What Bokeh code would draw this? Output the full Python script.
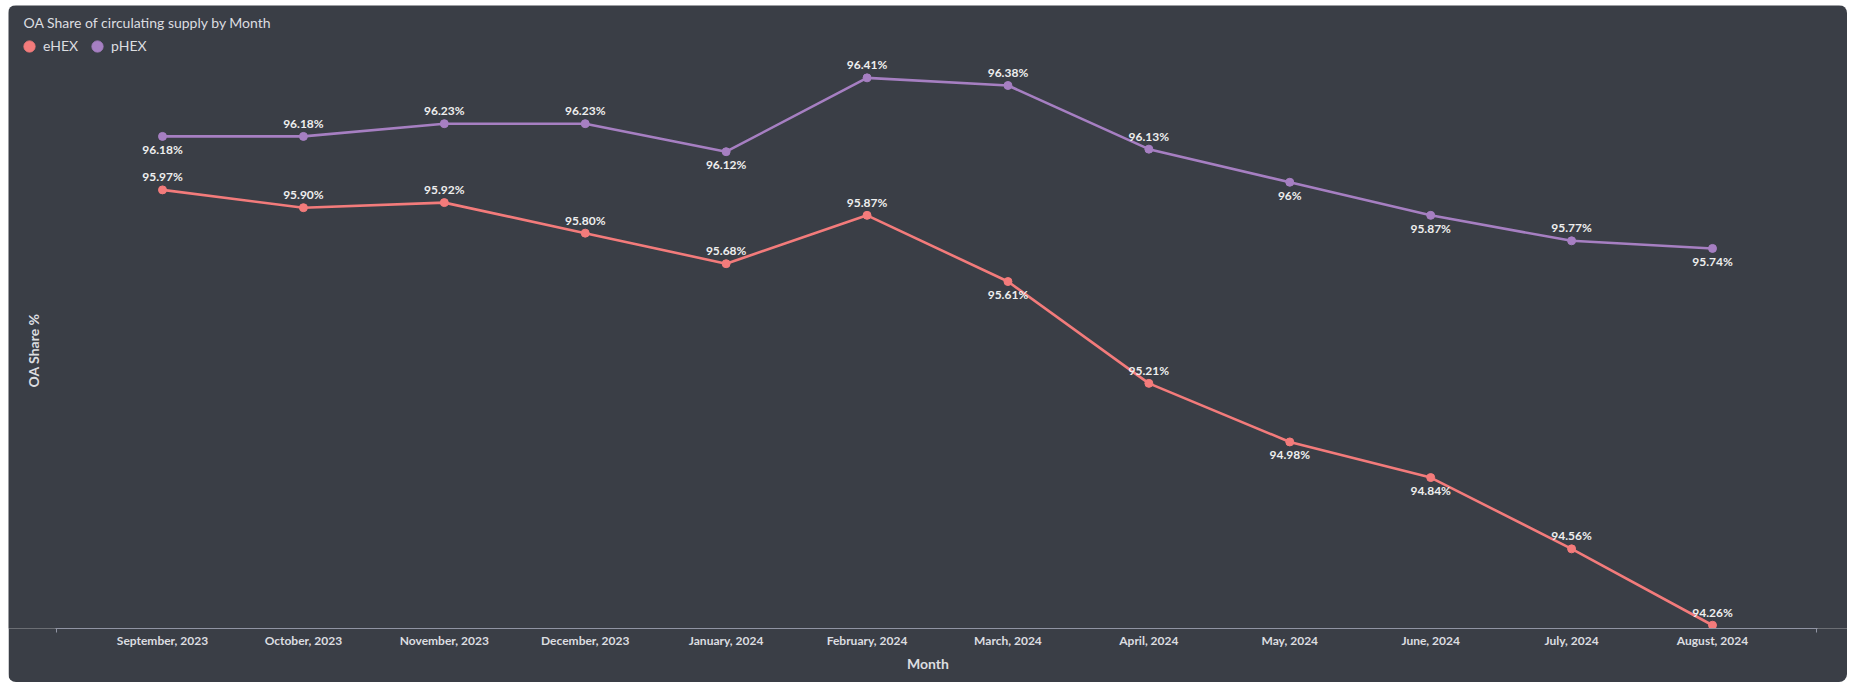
import math
from bokeh.plotting import figure
from bokeh.models import (ColumnDataSource, Range1d, LabelSet, Label,
                          Legend, LegendItem, FixedTicker)
from bokeh.core.properties import value
from bokeh.embed import file_html
from bokeh.resources import INLINE

# ---- data ----
months = ["September, 2023", "October, 2023", "November, 2023", "December, 2023",
          "January, 2024", "February, 2024", "March, 2024", "April, 2024",
          "May, 2024", "June, 2024", "July, 2024", "August, 2024"]
ehex = [95.97, 95.90, 95.92, 95.80, 95.68, 95.87, 95.61, 95.21, 94.98, 94.84, 94.56, 94.26]
phex = [96.18, 96.18, 96.23, 96.23, 96.12, 96.41, 96.38, 96.13, 96.00, 95.87, 95.77, 95.74]
ehex_labels = ["95.97%", "95.90%", "95.92%", "95.80%", "95.68%", "95.87%",
               "95.61%", "95.21%", "94.98%", "94.84%", "94.56%", "94.26%"]
phex_labels = ["96.18%", "96.18%", "96.23%", "96.23%", "96.12%", "96.41%",
               "96.38%", "96.13%", "96%", "95.87%", "95.77%", "95.74%"]
series_names = ["eHEX", "pHEX"]

# label placement (1 = above point, -1 = below)
ehex_side = [1, 1, 1, 1, 1, 1, -1, 1, -1, -1, 1, 1]
phex_side = [-1, 1, 1, 1, -1, 1, 1, 1, -1, -1, 1, -1]

# ---- style ----
CARD = "#3a3e46"
PAGE = "#252a2e"
E_COL = "#f37b7b"
P_COL = "#a67fc2"
AXC = "#9094a3"
TXT = "#dcdde0"
FONT = "Lato"
OFF = 13

W, H = 1839, 677
FB = 54
FRAME_H = H - FB

idx = list(range(len(months)))

p = figure(width=W, height=H, output_backend="svg", toolbar_location=None,
           tools="",
           x_range=Range1d(-1.0929, 11.958),
           y_range=Range1d(94.2472, 96.6942),
           y_axis_location=None,
           min_border_left=0, min_border_right=0, min_border_top=0,
           min_border_bottom=FB)
p.margin = (5, 0, 0, 8)
p.background_fill_color = CARD
p.border_fill_color = CARD
for name in p.properties():
    if name.endswith("line_color") and name.split("_")[0] in ("outline", "frame", "border"):
        setattr(p, name, None)
p.xgrid.visible = False
p.ygrid.visible = False
p.styles = {"border-radius": "8px", "overflow": "hidden"}

# x axis
xa = p.xaxis[0]
xa.ticker = FixedTicker(ticks=idx, minor_ticks=[-0.755, 11.741])
xa.major_label_overrides = {i: m for i, m in zip(idx, months)}
xa.bounds = (-0.76, 11.746)
xa.axis_line_color = AXC
xa.axis_line_width = 1
xa.major_tick_line_color = None
xa.major_tick_in = 0
xa.major_tick_out = 0
xa.minor_tick_line_color = AXC
xa.minor_tick_in = 0
xa.minor_tick_out = 4
xa.major_label_standoff = 0
xa.major_label_text_font = FONT
xa.major_label_text_font_style = "bold"
xa.major_label_text_font_size = "12px"
xa.major_label_text_color = TXT
xa.axis_label = "Month"
xa.axis_label_standoff = 4
xa.axis_label_text_font = FONT
xa.axis_label_text_font_style = "bold"
xa.axis_label_text_font_size = "14px"
xa.axis_label_text_color = TXT

items = []
for name, vals, labs, side, col in [
        (series_names[0], ehex, ehex_labels, ehex_side, E_COL),
        (series_names[1], phex, phex_labels, phex_side, P_COL)]:
    src = ColumnDataSource(dict(x=idx, y=vals, lab=labs,
                                dy=[OFF * s for s in side]))
    p.line("x", "y", source=src, line_color=col, line_width=2.6)
    r = p.scatter("x", "y", source=src, size=8, fill_color=col, line_color=col)
    p.add_layout(LabelSet(x="x", y="y", text="lab", source=src, y_offset="dy",
                          text_align="center", text_baseline="middle",
                          text_font=value(FONT), text_font_style="bold",
                          text_font_size="12px", text_color="#eeeeee"))
    items.append(LegendItem(label=name, renderers=[r]))

legend = Legend(items=items, orientation="horizontal",
                location=(7, FRAME_H - 54.7),
                glyph_width=28, glyph_height=28, label_standoff=0,
                spacing=5, padding=0, margin=0,
                border_line_color=None, background_fill_alpha=0,
                label_text_font=FONT, label_text_font_size="14px",
                label_text_color=TXT, label_text_baseline="middle")
p.add_layout(legend, "center")

p.add_layout(Label(x=15, y=FRAME_H - 17, x_units="screen", y_units="screen",
                   text="OA Share of circulating supply by Month",
                   text_font=FONT, text_font_size="14px", text_color=TXT,
                   text_baseline="alphabetic", text_align="left"))
p.add_layout(Label(x=25, y=FRAME_H - 345, x_units="screen", y_units="screen",
                   text="OA Share %", angle=math.pi / 2,
                   text_font=FONT, text_font_size="14px",
                   text_font_style="bold", text_color=TXT,
                   text_baseline="middle", text_align="center"))

html = file_html(p, INLINE)
html = html.replace("<body>", '<body style="background-color:%s;">' % PAGE, 1)
open("out.html", "w").write(html)
